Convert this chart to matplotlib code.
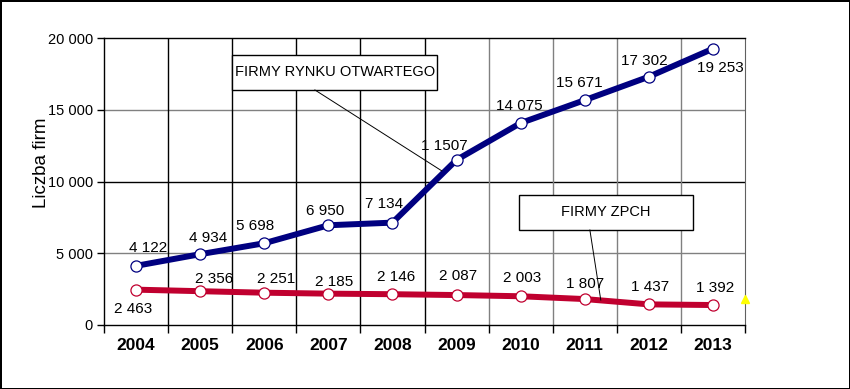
import matplotlib
matplotlib.use("Agg")
import matplotlib.pyplot as plt
from matplotlib.patches import Rectangle
from matplotlib.ticker import FuncFormatter

plt.rcParams['font.family'] = ['Liberation Sans', 'DejaVu Sans']

years = ['2004', '2005', '2006', '2007', '2008', '2009', '2010', '2011', '2012', '2013']
otwarty = [4122, 4934, 5698, 6950, 7134, 11507, 14075, 15671, 17302, 19253]
otwarty_labels = ['4 122', '4 934', '5 698', '6 950', '7 134', '1 1507', '14 075', '15 671', '17 302', '19 253']
zpch = [2463, 2356, 2251, 2185, 2146, 2087, 2003, 1807, 1437, 1392]
zpch_labels = ['2 463', '2 356', '2 251', '2 185', '2 146', '2 087', '2 003', '1 807', '1 437', '1 392']
stray_point = (9.5, 1800)

# przesuniecia etykiet (piksele)
off_otw = [(12, 18), (8, 16), (-9, 17), (-3, 14), (-8, 19), (-12, 14), (-1, 17), (-5, 17), (-5, 16), (7, -19)]
off_zpch = [(-3, -19), (14, 12), (12, 14), (6, 12), (4, 17), (2, 19), (1, 18), (0, 15), (1, 17), (2, 17)]

NAVY = '#000080'
RED = '#C0002F'

fig = plt.figure(figsize=(8.5, 3.89), dpi=100, edgecolor='black', linewidth=2)
ax = fig.add_axes([104/850, 1-325/389, 641/850, 287/389])

x = list(range(len(years)))
ax.plot(x, otwarty, color=NAVY, lw=4.3, marker='o', ms=8, mfc='white', mec=NAVY, mew=0.9, zorder=5)
ax.plot(x, zpch, color=RED, lw=4.3, marker='o', ms=8, mfc='white', mec=RED, mew=0.9, zorder=5)
ax.plot(*stray_point, marker='^', color='#FFFF00', ms=6, clip_on=False, zorder=6)

for i in x:
    ax.annotate(otwarty_labels[i], (i, otwarty[i]), xytext=off_otw[i], textcoords='offset pixels',
                ha='center', va='center', fontsize=11, zorder=7)
    ax.annotate(zpch_labels[i], (i, zpch[i]), xytext=off_zpch[i], textcoords='offset pixels',
                ha='center', va='center', fontsize=11, zorder=7)

ax.set_xlim(-0.5, 9.5)
ax.set_ylim(0, 20000)

# siatka
for yv, c in [(5000, '#808080'), (10000, 'black'), (15000, '#808080')]:
    ax.axhline(yv, color=c, lw=1, zorder=1)
for i, xv in enumerate([0.5, 1.5, 2.5, 3.5, 4.5, 5.5, 6.5, 7.5, 8.5]):
    ax.axvline(xv, color='black' if i < 5 else '#808080', lw=1, zorder=1)

for s in ['left', 'bottom', 'top']:
    ax.spines[s].set_color('black')
    ax.spines[s].set_linewidth(1)
ax.spines['right'].set_color('#606060')

ax.set_yticks([0, 5000, 10000, 15000, 20000])
ax.yaxis.set_major_formatter(FuncFormatter(lambda v, p: f'{int(v):,}'.replace(',', ' ')))
ax.tick_params(axis='y', length=5, width=1, labelsize=10.5, pad=3)

ax.set_xticks(x)
ax.set_xticklabels(years, fontweight='bold', fontsize=12.5)
ax.set_xticks([i + 0.5 for i in range(-1, 10)], minor=True)
ax.tick_params(axis='x', which='major', length=0, pad=9)
ax.tick_params(axis='x', which='minor', length=6, width=1)

fig.text(41/850, 1-163/389, 'Liczba firm', rotation=90, ha='center', va='center', fontsize=13.5)

# opisy serii
ax.add_patch(Rectangle((0.1997, 0.8188), 0.3198, 0.122, transform=ax.transAxes,
                       facecolor='white', edgecolor='black', lw=1, zorder=8))
ax.text(0.36, 0.88, 'FIRMY RYNKU OTWARTEGO', transform=ax.transAxes, ha='center', va='center',
        fontsize=10.5, zorder=9)
ax.plot([0.329, 0.527], [0.819, 0.537], transform=ax.transAxes, color='black', lw=0.7, zorder=8)

ax.add_patch(Rectangle((0.6474, 0.331), 0.2715, 0.122, transform=ax.transAxes,
                       facecolor='white', edgecolor='black', lw=1, zorder=8))
ax.text(0.782, 0.392, 'FIRMY ZPCH', transform=ax.transAxes, ha='center', va='center',
        fontsize=10.5, zorder=9)
ax.plot([0.758, 0.775], [0.331, 0.087], transform=ax.transAxes, color='black', lw=0.7, zorder=8)

fig.savefig('out.png', dpi=100)
